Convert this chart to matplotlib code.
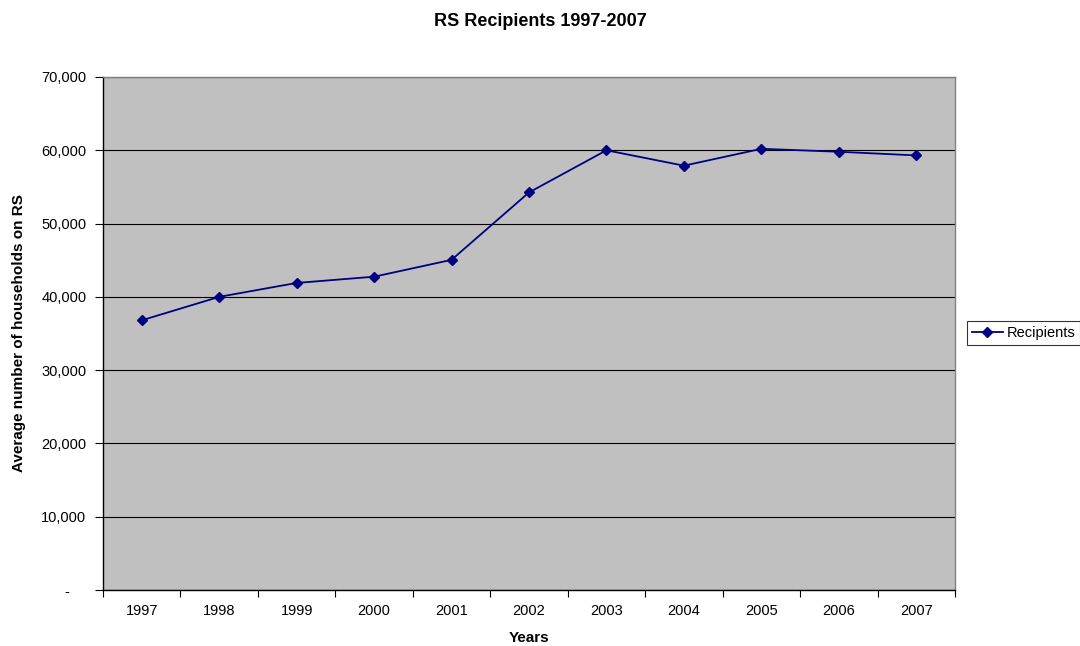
import matplotlib
matplotlib.use("Agg")
import matplotlib.pyplot as plt
from matplotlib.ticker import FixedLocator, FuncFormatter
import numpy as np

years = ["1997", "1998", "1999", "2000", "2001", "2002", "2003", "2004", "2005", "2006", "2007"]
recipients = [36800, 40000, 41900, 42750, 45050, 54250, 60000, 57900, 60200, 59800, 59300]
y_ticks = [0, 10000, 20000, 30000, 40000, 50000, 60000, 70000]

plt.rcParams['font.family'] = ['Liberation Sans', 'DejaVu Sans']

fig = plt.figure(figsize=(10.8, 6.46), dpi=100)
fig.patch.set_facecolor("white")
W, H = 1080, 646
ax = fig.add_axes([103 / W, 1 - 590 / H, (955 - 103) / W, (590 - 77) / H])
ax.set_facecolor("#C0C0C0")

x = np.arange(len(years))
ax.plot(x, recipients, color="#000080", lw=1.3, marker="D", markersize=5.5,
        markerfacecolor="#000080", markeredgecolor="#000080", label="Recipients",
        zorder=3, clip_on=False)

ax.set_xlim(-0.5, len(years) - 0.5)
ax.set_ylim(0, 70000)

ax.set_xticks(x)
ax.set_xticklabels(years, fontsize=10.5)
ax.xaxis.set_minor_locator(FixedLocator(np.arange(-0.5, len(years), 1.0)))
ax.tick_params(axis="x", which="major", length=0, pad=10)
ax.tick_params(axis="x", which="minor", length=5, width=0.8, direction="out", color="black")

ax.set_yticks(y_ticks)
ax.yaxis.set_major_formatter(FuncFormatter(lambda v, p: "-    " if v == 0 else f"{int(v):,}"))
ax.tick_params(axis="y", length=6, width=0.8, pad=6, labelsize=10.5, direction="out")

ax.grid(axis="y", color="black", lw=0.8)
ax.set_axisbelow(True)

for s in ["left", "bottom"]:
    ax.spines[s].set_color("black")
    ax.spines[s].set_linewidth(1.0)
for s in ["top", "right"]:
    ax.spines[s].set_color("#808080")
    ax.spines[s].set_linewidth(1.0)

ax.set_xlabel("Years", fontsize=11, fontweight="bold")
ax.xaxis.set_label_coords(0.5, -(631 - 590) / (590 - 77))
ax.set_ylabel("Average number of households on RS", fontsize=11, fontweight="bold")
ax.yaxis.set_label_coords((26 - 103) / (955 - 103), 0.5)

fig.text(540 / W, 1 - 22 / H, "RS Recipients 1997-2007", ha="center", va="center",
         fontsize=13, fontweight="bold")

leg = fig.legend(loc="center left", bbox_to_anchor=(967 / W, 1 - 333 / H), fontsize=10.5,
                 frameon=True, fancybox=False, handlelength=2.1, handletextpad=0.25,
                 borderpad=0.35, borderaxespad=0)
leg.get_frame().set_edgecolor("black")
leg.get_frame().set_linewidth(0.8)

fig.savefig("out.png", dpi=100, facecolor="white")
